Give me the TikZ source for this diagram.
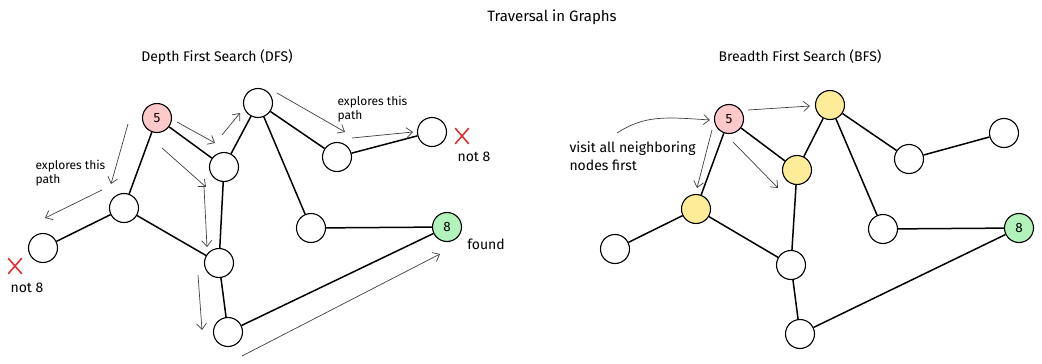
\documentclass[tikz,border=0pt]{standalone}
\usepackage{fontspec}
\setmainfont{Fira Sans}
\usetikzlibrary{arrows.meta,shapes.misc}

\definecolor{startpink}{HTML}{FFC9C9}
\definecolor{goalgreen}{HTML}{B2F2BB}
\definecolor{seenyellow}{HTML}{FFEC99}
\definecolor{failred}{HTML}{E03131}

\begin{document}
\begin{tikzpicture}[
  x=1pt, y=-1pt,
  every node/.style={font=\fontsize{11.5}{13}\selectfont},
  vert/.style={circle, draw, line width=1.1pt, minimum size=29pt, inner sep=0pt, fill=white, font=\fontsize{13.5}{15}\selectfont},
  start/.style={vert, fill=startpink},
  goal/.style={vert, fill=goalgreen},
  seen/.style={vert, fill=seenyellow},
  edge/.style={line width=1.5pt},
  hint/.style={draw=black!75, line width=0.7pt, -{Straight Barb[length=6pt,width=10pt]}},
  lab/.style={draw=none, align=left, anchor=west, font=\fontsize{12}{14}\selectfont},
  mark8/.style={draw=none, font=\fontsize{14}{16}\selectfont},
  head/.style={draw=none, font=\fontsize{14}{16}\selectfont},
  miss/.style={cross out, draw=failred, line width=1.6pt, minimum width=12pt, minimum height=14pt, inner sep=0pt}
]
\useasboundingbox (0,0) rectangle (1042,364);

\node[head, font=\fontsize{15}{17}\selectfont] (title) at (552,17) {Traversal in Graphs};
\node[head] (dfshead) at (217,57) {Depth First Search (DFS)};
\node[head] (bfshead) at (800,57) {Breadth First Search (BFS)};

% --- DFS ---
\node[start] (d5) at (157,118) {5};
\node[vert]  (da) at (258,103) {};
\node[vert]  (db) at (224,167) {};
\node[vert]  (dc) at (337,157) {};
\node[vert]  (dd) at (432,132) {};
\node[vert]  (de) at (124,208) {};
\node[vert]  (df) at (43,248) {};
\node[vert]  (dg) at (311,228) {};
\node[goal]  (d8) at (447,227) {8};
\node[vert]  (di) at (219,263) {};
\node[vert]  (dj) at (228,332) {};

\draw[edge] (d5) -- (de);
\draw[edge] (d5) -- (db);
\draw[edge] (db) -- (da);
\draw[edge] (da) -- (dc);
\draw[edge] (dc) -- (dd);
\draw[edge] (da) -- (dg);
\draw[edge] (dg) -- (d8);
\draw[edge] (de) -- (df);
\draw[edge] (de) -- (di);
\draw[edge] (db) -- (di);
\draw[edge] (di) -- (dj);
\draw[edge] (dj) -- (d8);

\draw[hint] (128,124) -- (111,184);
\draw[hint] (102,190) -- (45,218);
\draw[hint] (177,122) -- (215,143);
\draw[hint] (222,135) -- (240,113);
\draw[hint] (162,148) -- (206,187);
\draw[hint] (204,187) -- (207,247);
\draw[hint] (198,275) -- (202,330);
\draw[hint] (242,356) -- (440,254);
\draw[hint] (277,93) -- (345,132);
\draw[hint] (352,138) -- (413,132);

\node[lab] (dtop) at (334,109) {explores this\\path};
\node[lab] (dleft) at (32,173) {explores this\\path};

\node[miss] (xtop) at (462,136) {};
\node[mark8] (ntop) at (474,157) {not 8};
\node[miss] (xleft) at (15,266) {};
\node[mark8] (nleft) at (27,288) {not 8};
\node[mark8] (found) at (486,244) {found};

% --- BFS ---
\node[start] (b5) at (729,119) {5};
\node[seen]  (ba) at (830,105) {};
\node[seen]  (bb) at (797,170) {};
\node[seen]  (bc) at (696,209) {};
\node[vert]  (bd) at (909,159) {};
\node[vert]  (be) at (1004,133) {};
\node[vert]  (bf) at (615,249) {};
\node[vert]  (bg) at (883,229) {};
\node[goal]  (b8) at (1019,228) {8};
\node[vert]  (bh) at (791,265) {};
\node[vert]  (bi) at (800,334) {};

\draw[edge] (b5) -- (bc);
\draw[edge] (b5) -- (bb);
\draw[edge] (bb) -- (ba);
\draw[edge] (ba) -- (bd);
\draw[edge] (bd) -- (be);
\draw[edge] (ba) -- (bg);
\draw[edge] (bg) -- (b8);
\draw[edge] (bc) -- (bf);
\draw[edge] (bc) -- (bh);
\draw[edge] (bb) -- (bh);
\draw[edge] (bh) -- (bi);
\draw[edge] (bi) -- (b8);

\draw[hint] (617,133) .. controls (645,115) and (665,117) .. (710,120);
\draw[hint] (748,110) -- (810,106);
\draw[hint] (712,130) -- (697,188);
\draw[hint] (733,142) -- (778,188);

\node[lab, font=\fontsize{14}{18}\selectfont] (bnote) at (566,156) {visit all neighboring\\nodes first};

\end{tikzpicture}
\end{document}
